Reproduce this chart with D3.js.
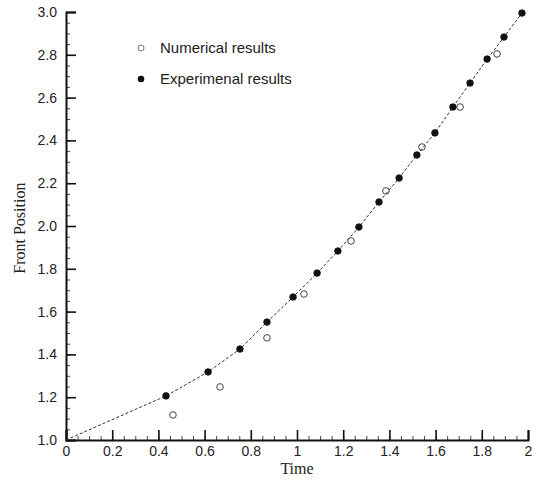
<!DOCTYPE html>
<html>
<head>
<meta charset="utf-8">
<script src="https://cdn.jsdelivr.net/npm/d3@7"></script>
<style>
  body { margin: 0; background: #fff; }
  .tick-label { font-family: "Liberation Sans", Arial, sans-serif; font-size: 14px; fill: #222; }
  .axis-title { font-family: "Liberation Serif", "Times New Roman", serif; font-size: 16px; fill: #222; }
  .legend-text { font-family: "Liberation Sans", Arial, sans-serif; font-size: 15px; fill: #222; }
</style>
</head>
<body>
<div id="chart-area"></div>
<script>
// values
let expTime = [0.433, 0.615, 0.753, 0.870, 0.983, 1.087, 1.177, 1.268, 1.355, 1.442, 1.519, 1.597, 1.675, 1.749, 1.823, 1.896, 1.974];
let expPos  = [1.206, 1.318, 1.425, 1.551, 1.668, 1.780, 1.883, 1.995, 2.112, 2.224, 2.332, 2.435, 2.556, 2.668, 2.780, 2.883, 2.995];

let numTime = [0.463, 0.667, 0.870, 1.030, 1.234, 1.385, 1.541, 1.706, 1.866];
let numPos  = [1.117, 1.248, 1.477, 1.682, 1.930, 2.164, 2.369, 2.556, 2.804];

// fitted curve: starts at the origin, then through the experimental points
let curveTime = [0].concat(expTime);
let curvePos  = [1.0].concat(expPos);

let xTicks = [0, 0.2, 0.4, 0.6, 0.8, 1, 1.2, 1.4, 1.6, 1.8, 2];
let xTickText = ["0", "0.2", "0.4", "0.6", "0.8", "1", "1.2", "1.4", "1.6", "1.8", "2"];
let yTicks = [1.0, 1.2, 1.4, 1.6, 1.8, 2.0, 2.2, 2.4, 2.6, 2.8, 3.0];

let legendNames = ["Numerical results", "Experimenal results"];

let W = 539, H = 480;
let margin = {top: 12, right: 11, bottom: 40, left: 66};
let width = W - margin.left - margin.right;
let height = H - margin.top - margin.bottom;

let svg = d3.select("#chart-area").append("svg")
	.attr("width", W)
	.attr("height", H)
	.append("g")
	.attr("transform", "translate(" + margin.left + "," + margin.top + ")");

let x = d3.scaleLinear().domain([0, 2]).range([0, width]);
let y = d3.scaleLinear().domain([1, 3]).range([height, 0]);

// minor ticks (inward)
let xMinor = d3.range(0, 2.0001, 0.05);
let yMinor = d3.range(1, 3.0001, 0.05);

svg.append("g")
	.attr("transform", "translate(0," + height + ")")
	.call(d3.axisBottom(x).tickValues(xMinor).tickSize(-4).tickFormat(""))
	.call(g => g.select(".domain").remove())
	.selectAll("line").attr("stroke", "#444").attr("stroke-width", 1);

svg.append("g")
	.call(d3.axisLeft(y).tickValues(yMinor).tickSize(-4).tickFormat(""))
	.call(g => g.select(".domain").remove())
	.selectAll("line").attr("stroke", "#444").attr("stroke-width", 1);

// major ticks
let xAxis = svg.append("g")
	.attr("transform", "translate(0," + height + ")")
	.call(d3.axisBottom(x).tickValues(xTicks).tickSize(-10).tickPadding(6)
		.tickFormat((d, i) => xTickText[i]));
xAxis.select(".domain").attr("stroke", "#111").attr("stroke-width", 2);
xAxis.selectAll("line").attr("stroke", "#111").attr("stroke-width", 1.6);
xAxis.selectAll("text").attr("class", "tick-label").attr("font-size", null).attr("font-family", null);

let yAxis = svg.append("g")
	.call(d3.axisLeft(y).tickValues(yTicks).tickSize(-10).tickPadding(9)
		.tickFormat(d3.format(".1f")));
yAxis.select(".domain").attr("stroke", "#111").attr("stroke-width", 2);
yAxis.selectAll("line").attr("stroke", "#111").attr("stroke-width", 1.6);
yAxis.selectAll("text").attr("class", "tick-label").attr("font-size", null).attr("font-family", null);

// axis titles
svg.append("text")
	.attr("class", "axis-title")
	.attr("x", x(1))
	.attr("y", height + 34)
	.attr("text-anchor", "middle")
	.text("Time");

svg.append("text")
	.attr("class", "axis-title")
	.attr("transform", "translate(" + (-41) + "," + y(1.99) + ") rotate(-90)")
	.attr("text-anchor", "middle")
	.text("Front Position");

// curve
let line = d3.line()
	.x((d, i) => x(curveTime[i]))
	.y(d => y(d));

svg.append("path")
	.datum(curvePos)
	.attr("d", line)
	.attr("fill", "none")
	.attr("stroke", "#333")
	.attr("stroke-width", 1)
	.attr("stroke-dasharray", "3,2");

// numerical results: open circles
svg.selectAll(".num")
	.data(numPos)
	.enter()
	.append("circle")
	.attr("class", "num")
	.attr("cx", (d, i) => x(numTime[i]))
	.attr("cy", d => y(d))
	.attr("r", 3.3)
	.attr("fill", "none")
	.attr("stroke", "#444")
	.attr("stroke-width", 1);

// experimental results: filled circles
svg.selectAll(".exp")
	.data(expPos)
	.enter()
	.append("circle")
	.attr("class", "exp")
	.attr("cx", (d, i) => x(expTime[i]))
	.attr("cy", d => y(d))
	.attr("r", 3.3)
	.attr("fill", "#111")
	.attr("stroke", "#111")
	.attr("stroke-width", 0.8);

// legend
let legend = svg.append("g")
	.attr("transform", "translate(" + (141 - margin.left) + "," + (48 - margin.top) + ")");

legend.append("circle")
	.attr("cx", 0).attr("cy", 0).attr("r", 3)
	.attr("fill", "none").attr("stroke", "#777").attr("stroke-width", 1);
legend.append("circle")
	.attr("cx", 0).attr("cy", 31).attr("r", 3.3)
	.attr("fill", "#111");

legend.selectAll(".legend-text")
	.data(legendNames)
	.enter()
	.append("text")
	.attr("class", "legend-text")
	.attr("x", 19)
	.attr("y", (d, i) => i * 31 + 5)
	.text(d => d);
</script>
</body>
</html>
